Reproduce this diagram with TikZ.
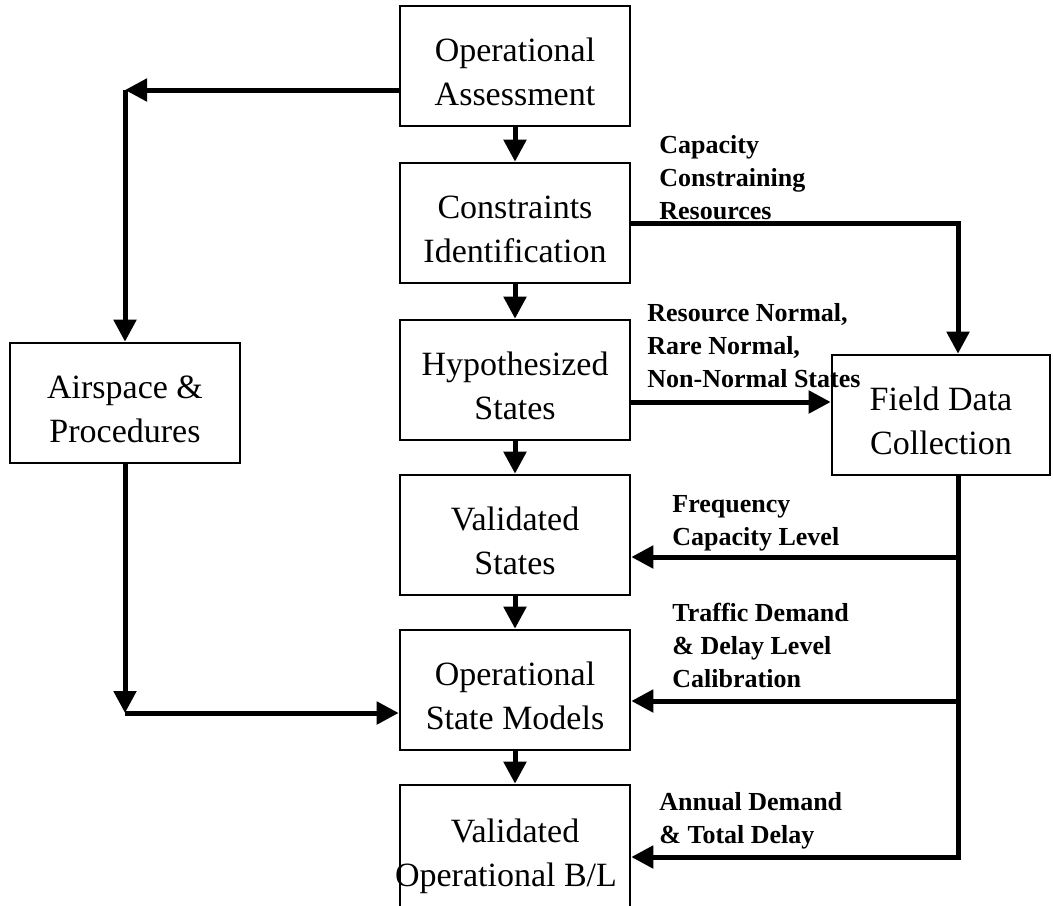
\documentclass[tikz,border=0pt]{standalone}
\usepackage{fontspec}
\setmainfont{Liberation Serif}
\usetikzlibrary{arrows.meta,calc}
\begin{document}
\begin{tikzpicture}[x=0.5pt,y=-0.5pt,
  box/.style={draw, line width=1.3pt, minimum width=115pt, minimum height=60pt,
    inner sep=0pt},
  txt/.style={align=center, inner sep=0pt, yshift=-3pt,
    font=\fontsize{17}{22}\selectfont},
  flow/.style={line width=2.5pt, -{Triangle[length=11pt,width=11pt]}},
  lbl/.style={align=left, anchor=west, inner sep=0pt,
    font=\fontsize{13}{16.5}\selectfont\bfseries}]

\useasboundingbox (0,0) rectangle (1053,905);
\fill[white] (0,0) rectangle (1053,905);

% main column
\node[box, label={[txt]center:Operational\\Assessment}] (oa) at (515,66) {};
\node[box, label={[txt]center:Constraints\\Identification}] (ci) at (515,223) {};
\node[box, label={[txt]center:Hypothesized\\States}] (hs) at (515,380) {};
\node[box, label={[txt]center:Validated\\States}] (vs) at (515,535) {};
\node[box, label={[txt]center:Operational\\State Models}] (osm) at (515,690) {};
\node[box, minimum height=65pt,
  label={[txt]center:Validated\\\hspace*{-9pt}Operational B/L}] (bl) at (515,850) {};

% side boxes
\node[box, label={[txt]center:Airspace \&\\Procedures}] (as) at (125,403) {};
\node[box, minimum width=109pt,
  label={[txt]center:Field Data\\Collection}] (fd) at (941,415) {};

% junction points
\coordinate (tl) at (125,90);
\coordinate (lb) at (125,713);
\coordinate (tr) at (958,223);
\coordinate (hy) at (0,402);
\coordinate (j1) at (958,557);
\coordinate (j2) at (958,701);
\coordinate (j3) at (958,857);

% vertical chain
\draw[flow] (oa.south) -- (ci.north);
\draw[flow] (ci.south) -- (hs.north);
\draw[flow] (hs.south) -- (vs.north);
\draw[flow] (vs.south) -- (osm.north);
\draw[flow] (osm.south) -- (bl.north);

% airspace branch
\draw[flow] (oa.west |- tl) -- (tl);
\draw[flow] (tl) -- (as.north);
\draw[flow] (as.south) -- (lb);
\draw[flow] (lb) -- (osm.west |- lb);

% to field data
\draw[flow] (ci.east |- tr) -- (tr) -- (tr |- fd.north);
\draw[flow] (hs.east |- hy) -- (fd.west |- hy);

% from field data
\draw[flow] (j1 |- fd.south) -- (j3) -- (bl.east |- j3);
\draw[flow] (j1) -- (vs.east |- j1);
\draw[flow] (j2) -- (osm.east |- j2);

% labels
\node[lbl] (l1) at (659,178) {Capacity\\Constraining\\Resources};
\node[lbl] (l2) at (647,346) {Resource Normal,\\Rare Normal,\\Non-Normal States};
\node[lbl] (l3) at (672,523) {Frequency\\Capacity Level};
\node[lbl] (l4) at (672,645) {Traffic Demand\\\& Delay Level\\Calibration};
\node[lbl] (l5) at (659,821) {Annual Demand\\\& Total Delay};
\end{tikzpicture}
\end{document}
